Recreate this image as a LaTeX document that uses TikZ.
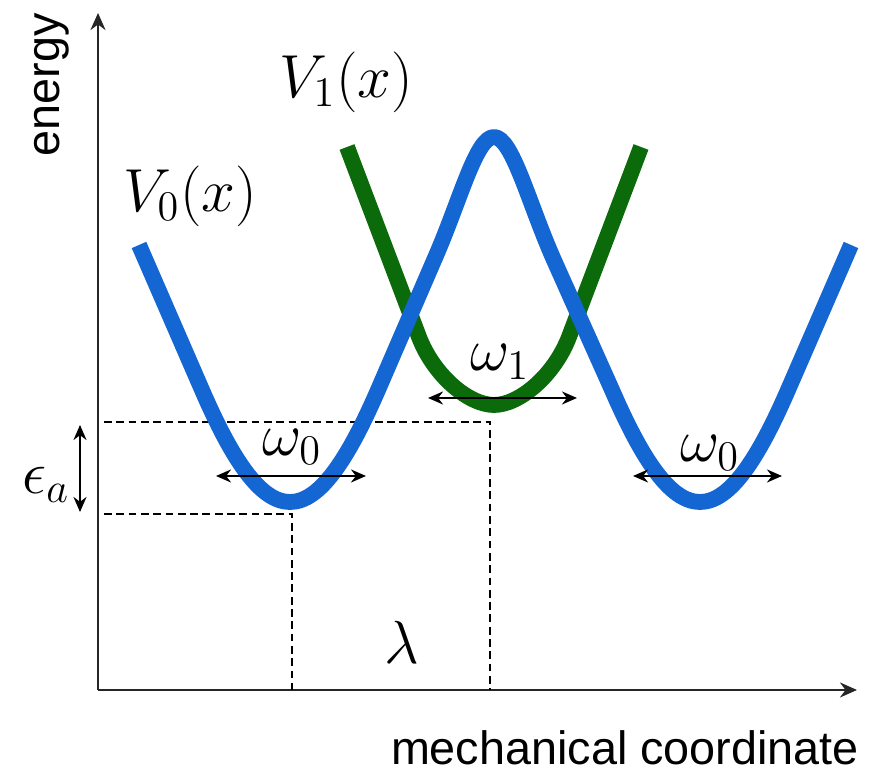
\documentclass[tikz,border=0pt]{standalone}
\usepackage{amsmath,amssymb}
\usepackage{fontspec}
\setsansfont{Liberation Sans}
\usetikzlibrary{arrows.meta,positioning,calc}
\definecolor{wellBlue}{HTML}{1466D2}
\definecolor{wellGreen}{HTML}{0B6B0B}

\begin{document}
\begin{tikzpicture}[x=0.01cm,y=-0.01cm,
  axis/.style={-{Stealth[length=1.7mm,width=1.5mm]},line width=0.6pt,black!85},
  guide/.style={line width=0.4pt,dash pattern=on 2.2pt off 1.3pt},
  freq/.style={{Stealth[length=1.5mm,width=1.3mm]}-{Stealth[length=1.5mm,width=1.3mm]},line width=0.6pt},
  pot/.style={line width=4.5pt,line join=round},
  lbl/.style={font=\LARGE,inner sep=0pt},
  ax/.style={font=\sffamily\fontsize{13.3}{15}\selectfont,inner sep=0pt}
]
\useasboundingbox (0,0) rectangle (885,771);
% axes
\coordinate (O) at (98,690);
\coordinate (ytop) at (98,13);
\coordinate (xend) at (857,690);
\draw[axis] (O) -- (ytop);
\draw[axis] (O) -- (xend);
\node[ax,rotate=90] (energy) at (52,85) {energy};
\node[ax] (mech) at (625,748) {mechanical coordinate};
% dashed guides
\coordinate (hiL) at (104,422);
\coordinate (hiX) at (490,690);
\coordinate (loL) at (104,514);
\coordinate (loX) at (292,690);
\draw[guide] (hiL) -| (hiX);
\draw[guide] (loL) -| (loX);
% excited state
\draw[pot,wellGreen] (347,147) -- (419,337)
  .. controls (434,376) and (469,405) .. (494,405)
  .. controls (519,405) and (554,376) .. (569,337) -- (641,147);
% ground state, two wells
\draw[pot,wellBlue] (139,245) -- (202,390)
  .. controls (232,459) and (260,502) .. (290,502)
  .. controls (320,502) and (348,459) .. (378,390) -- (435,258)
  .. controls (460,201) and (476,137) .. (494,137)
  .. controls (512,137) and (528,201) .. (553,258) -- (612,390)
  .. controls (642,459) and (670,502) .. (700,502)
  .. controls (730,502) and (758,459) .. (788,390) -- (851,245);
% widths and offsets
\coordinate (w0a) at (216,476);
\coordinate (w0b) at (366,476);
\coordinate (w1a) at (428,398);
\coordinate (w1b) at (577,398);
\coordinate (w2a) at (633,476);
\coordinate (w2b) at (782,476);
\coordinate (epsT) at (80,425);
\coordinate (epsB) at (80,512);
\draw[freq] (w0a) -- (w0b);
\draw[freq] (w1a) -- (w1b);
\draw[freq] (w2a) -- (w2b);
\draw[freq] (epsT) -- (epsB);
\node[lbl] (om0) at (292,447) {$\omega_0$};
\node[lbl] (om1) at (500,362) {$\omega_1$};
\node[lbl] (om2) at (710,453) {$\omega_0$};
\node[lbl] (eps) at (46,485) {$\epsilon_a$};
\node[lbl] (lam) at (402,642) {$\lambda$};
\node[lbl] (V0) at (190,196) {$V_0(x)$};
\node[lbl] (V1) at (346,82) {$V_1(x)$};
\end{tikzpicture}
\end{document}
